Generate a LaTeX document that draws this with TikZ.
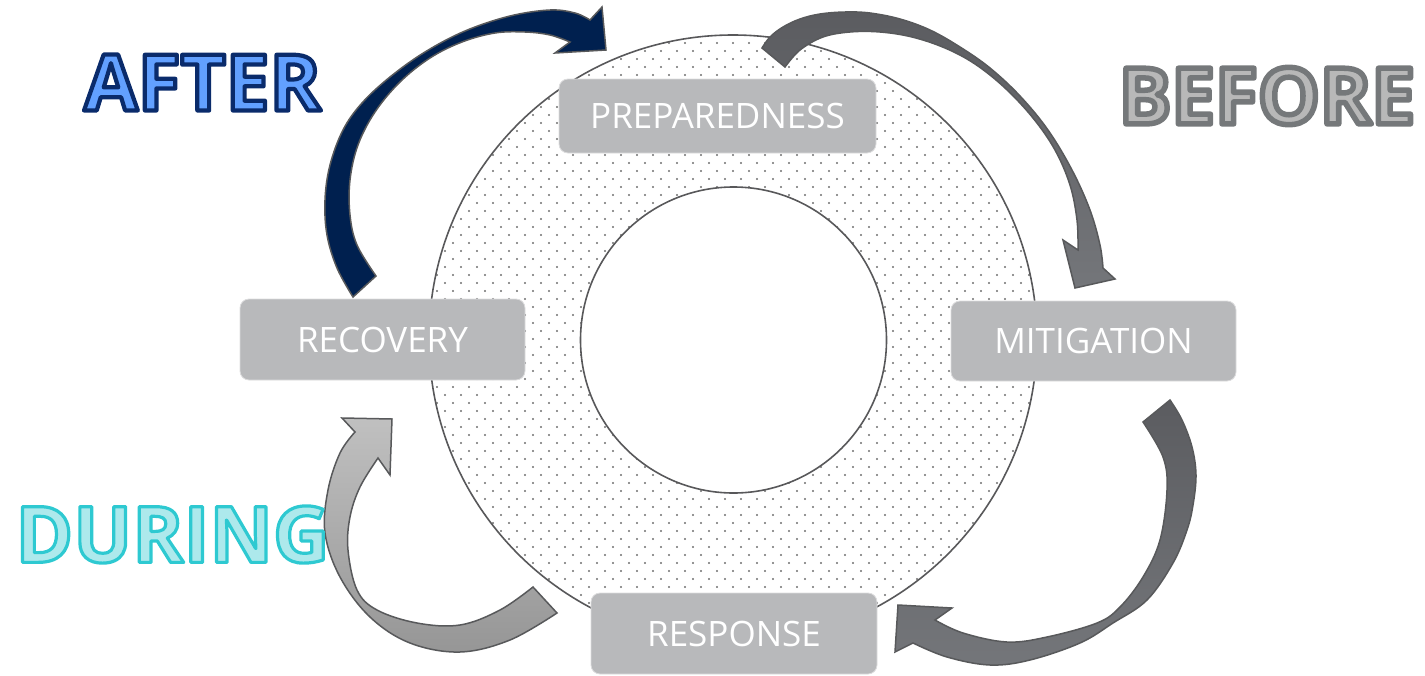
\documentclass[tikz,border=0pt]{standalone}
\usepackage{fontspec}
\setmainfont{Open Sans}
\definecolor{boxgray}{HTML}{B8B9BB}
\definecolor{boxedge}{HTML}{DCDCDD}
\definecolor{ringline}{HTML}{58585A}
\definecolor{dotgray}{HTML}{6E6E6E}
\definecolor{navy}{HTML}{00204F}
\definecolor{arrowline}{HTML}{58595B}
\definecolor{afterfill}{HTML}{62A0FF}
\definecolor{beforefill}{HTML}{B8B8B8}
\definecolor{duringfill}{HTML}{ADE9EC}
\definecolor{darkarrow}{HTML}{5B5C60}
\definecolor{midarrow}{HTML}{74767A}
\definecolor{lightarrow}{HTML}{C0C0C0}
\definecolor{lowarrow}{HTML}{969696}
% outlined text: fill with the current colour, stroke with the given rgb
\newcommand{\strokedtext}[3]{\special{pdf:literal direct 2 Tr 1 j #1 w #2 RG}#3\special{pdf:literal direct 0 Tr}}
\tikzset{
  phase/.style={rounded corners=9pt, fill=boxgray, draw=boxedge, line width=0.8pt,
    text=white, font=\fontsize{35}{40}\selectfont, inner sep=0pt},
  phaseword/.style={font=\bfseries\fontsize{78}{80}\selectfont, inner sep=0pt},
  blockarrow/.style={draw=arrowline, line width=1.5pt, line join=miter},
  ringedge/.style={draw=ringline, line width=1.6pt}
}
\begin{document}
\begin{tikzpicture}[x=1pt, y=-1pt]
\useasboundingbox (0,0) rectangle (1425,675);

% dotted ring
\begin{scope}[even odd rule]
  \clip (733,339) circle[radius=304pt] (733.5,340) circle[radius=153pt];
  \foreach \j in {0,...,77}{
    \pgfmathtruncatemacro{\off}{mod(\j,2)*8}
    \foreach \i in {0,...,38}{
      \fill[dotgray] ({421+\off+16*\i},{35+8*\j}) circle[radius=1.1pt];
    }
  }
\end{scope}
\draw[ringedge] (733,339) circle[radius=304pt];
\draw[ringedge] (733.5,340) circle[radius=153pt];

% phase boxes
\node[phase, minimum width=317pt, minimum height=74pt] (prep) at (717.5,116) {PREPAREDNESS};
\node[phase, minimum width=285pt, minimum height=80pt] (mitig) at (1093.5,341) {MITIGATION};
\node[phase, minimum width=286pt, minimum height=81pt] (resp) at (734,633.5) {RESPONSE};
\node[phase, minimum width=285pt, minimum height=81pt] (recov) at (382.5,339.5) {RECOVERY};

% AFTER arrow (recovery -> preparedness)
\draw[blockarrow, fill=navy]
  plot[smooth, tension=0.6] coordinates {(353,297) (337,268) (327,235) (325,200) (330,165) (343,130) (362,103) (390,77) (425,52) (465,31) (510,16) (550,10) (575,13) (590,20)}
  -- (602,7) -- (606,50) -- (555,53) --
  plot[smooth, tension=0.6] coordinates {(570,42) (550,35) (525,32) (495,33) (462,42) (430,58) (400,82) (375,112) (358,145) (350,180) (350,215) (357,245) (376,276)}
  -- cycle;

% BEFORE arrow (preparedness -> mitigation)
\draw[blockarrow, top color=darkarrow, bottom color=midarrow]
  plot[smooth, tension=0.6] coordinates {(762,48) (770,37) (783,27) (800,19) (820,14) (845,12) (870,13) (900,19) (930,30) (960,47) (990,68) (1020,96) (1048,130) (1072,170) (1090,210) (1100,245) (1103,268)}
  -- (1115,279) -- (1075,288) -- (1063,240) --
  plot[smooth, tension=0.6] coordinates {(1078,250) (1077,220) (1070,185) (1055,150) (1033,118) (1005,88) (975,64) (945,48) (912,37) (880,32) (850,32) (823,37) (800,50) (785,67)}
  -- cycle;

% mitigation -> response arrow
\draw[blockarrow, top color=darkarrow, bottom color=midarrow]
  plot[smooth, tension=0.6] coordinates {(1170,400) (1182,420) (1192,447) (1196,475) (1193,505) (1187,530) (1173,563) (1147,600) (1113,623) (1080,643) (1030,660) (990,665) (947,657) (913,643)}
  -- (895,652) -- (898,605) -- (952,608) --
  plot[smooth, tension=0.6] coordinates {(935,620) (963,633) (1007,642) (1047,637) (1097,623) (1120,607) (1143,577) (1160,540) (1167,490) (1163,457) (1143,422)}
  -- cycle;

% DURING arrow (response -> recovery)
\draw[blockarrow, top color=lightarrow, bottom color=lowarrow]
  plot[smooth, tension=0.6] coordinates {(557,613) (510,640) (460,652) (410,643) (370,617) (340,577) (325,533) (328,490) (340,453) (355,432)}
  -- (342,418) -- (392,419) -- (390,475) --
  plot[smooth, tension=0.6] coordinates {(378,458) (360,487) (350,517) (348,550) (357,590) (377,610) (417,623) (460,625) (500,610) (533,587)}
  -- cycle;

% big words
\node[phaseword, text=afterfill] (after) at (202.5,82.5) {\strokedtext{4.2}{0.04 0.17 0.42}{AFTER}};
\node[phaseword, text=beforefill] (before) at (1267,96) {\strokedtext{5.5}{0.46 0.47 0.48}{BEFORE}};
\node[phaseword, text=duringfill] (during) at (172.5,534.5) {\strokedtext{3.2}{0.18 0.79 0.82}{DURING}};
\end{tikzpicture}
\end{document}
